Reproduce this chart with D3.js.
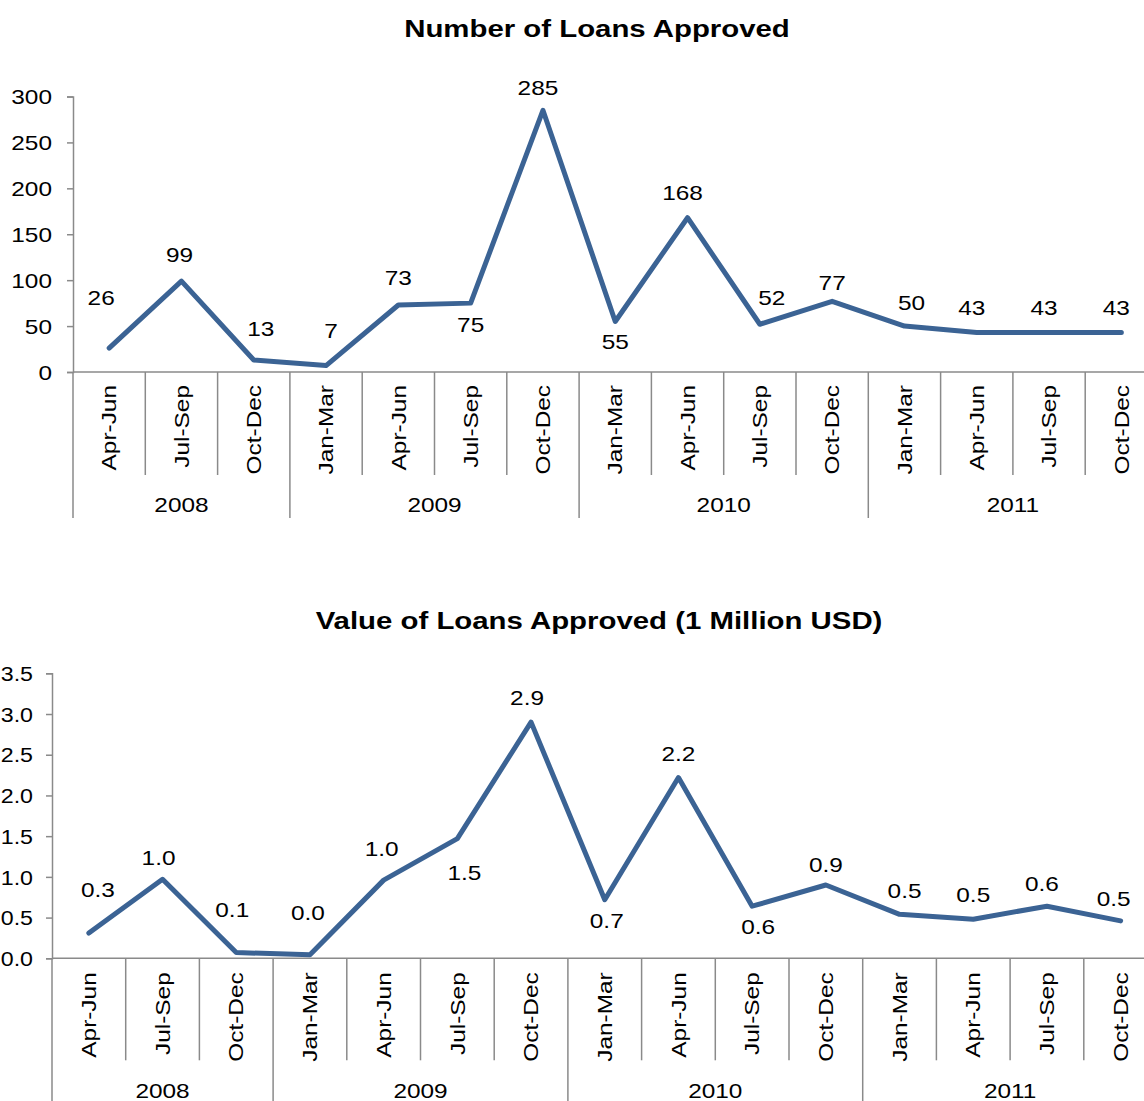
<!DOCTYPE html>
<html>
<head>
<meta charset="utf-8">
<script src="https://cdn.jsdelivr.net/npm/d3@7"></script>
<style>
  html, body { margin: 0; padding: 0; background: #fff; }
  svg { display: block; }
  text { font-family: "Liberation Sans", Arial, sans-serif; fill: #000; }
</style>
</head>
<body>
<svg id="chart" width="1144" height="1101"></svg>
<script>
// ---------- DATA ----------
const quarters = ["Apr-Jun","Jul-Sep","Oct-Dec","Jan-Mar","Apr-Jun","Jul-Sep","Oct-Dec","Jan-Mar","Apr-Jun","Jul-Sep","Oct-Dec","Jan-Mar","Apr-Jun","Jul-Sep","Oct-Dec"];
const years = ["2008","2008","2008","2009","2009","2009","2009","2010","2010","2010","2010","2011","2011","2011","2011"];
const loansCount = [26, 99, 13, 7, 73, 75, 285, 55, 168, 52, 77, 50, 43, 43, 43];
const loansValue = [0.31, 0.97, 0.07, 0.045, 0.96, 1.47, 2.90, 0.72, 2.22, 0.64, 0.90, 0.54, 0.48, 0.64, 0.46];
const countTicks = [0, 50, 100, 150, 200, 250, 300];
const valueTicks = [0, 0.5, 1.0, 1.5, 2.0, 2.5, 3.0, 3.5];
const title1 = "Number of Loans Approved";
const title2 = "Value of Loans Approved (1 Million USD)";

// label placement offsets (style only)
const countLabelOffsets = [[-8,-50],[-2,-26],[7,-31],[5,-35],[0,-27],[0,22],[-5,-22],[0,20],[-5,-25],[12,-26],[0,-18],[7,-23],[-5,-25],[-5,-25],[-5,-25]];
const valueLabelOffsets = [[9,-43],[-4,-22],[-4,-43],[-2,-42],[-2,-31],[7,34],[-4,-24],[2,21],[0,-24],[6,21],[0,-20],[5,-24],[0,-24],[-5,-22],[-7,-22]];

// ---------- STYLE ----------
const LINE = "#3b6394";
const AXIS = "#8a8a8a";
const SX = 1.22; // horizontal text stretch
const FS = 20;

const svg = d3.select("#chart");
const keys = quarters.map((q, i) => years[i] + " " + q);

function stretchedText(g, x, y, str, opts = {}) {
  const rot = opts.rotate ? ` rotate(${opts.rotate})` : "";
  return g.append("text")
    .attr("transform", `translate(${x},${y})${rot} scale(${opts.sx || SX},1)`)
    .attr("text-anchor", opts.anchor || "middle")
    .attr("dy", opts.dy || "0.36em")
    .style("font-size", (opts.size || FS) + "px")
    .style("font-weight", opts.weight || "normal")
    .text(str);
}

function drawChart(cfg) {
  const g = svg.append("g");
  const x = d3.scaleBand().domain(keys).range([cfg.x0, cfg.x1]).paddingInner(0).paddingOuter(0);
  const y = d3.scaleLinear().domain(cfg.domain).range([cfg.y0, cfg.yTop]);

  // title
  stretchedText(g, cfg.titleX, cfg.titleY, cfg.title, {size: 23.5, weight: "bold", dy: "0", sx: 1.25});

  // y axis
  const yAxis = d3.axisLeft(y).tickValues(cfg.ticks).tickSize(6).tickFormat(cfg.tickFmt);
  const ya = g.append("g").attr("transform", `translate(${cfg.x0},0)`).call(yAxis);
  ya.select(".domain").attr("stroke", AXIS).attr("stroke-width", 1.5);
  ya.selectAll(".tick line").attr("stroke", AXIS).attr("stroke-width", 1.5);
  ya.selectAll(".tick text")
    .attr("x", null).attr("dy", "0.36em")
    .attr("transform", `translate(${-cfg.labelGap},0) scale(${cfg.tickSx || SX},1)`)
    .attr("fill", "#000")
    .style("font-size", FS + "px")
    .style("font-family", "'Liberation Sans', Arial, sans-serif");

  // x axis line
  g.append("line")
    .attr("x1", cfg.x0).attr("x2", cfg.x1)
    .attr("y1", cfg.y0).attr("y2", cfg.y0)
    .attr("stroke", AXIS).attr("stroke-width", 1.5);

  // separators
  const bw = x.bandwidth();
  for (let i = 0; i <= keys.length; i++) {
    const xb = cfg.x0 + i * bw;
    const isYear = i === 0 || i === keys.length || years[i] !== years[i - 1];
    g.append("line")
      .attr("x1", xb).attr("x2", xb)
      .attr("y1", cfg.y0).attr("y2", cfg.y0 + (isYear ? cfg.yearTick : cfg.innerTick))
      .attr("stroke", AXIS).attr("stroke-width", 1.5);
  }

  // quarter labels
  keys.forEach((k, i) => {
    stretchedText(g, x(k) + bw / 2, cfg.y0 + cfg.qOffset, quarters[i], {rotate: -90, anchor: "end", dy: "0.36em"});
  });

  // year labels
  const yearGroups = d3.groups(keys.map((k, i) => ({k, yr: years[i]})), d => d.yr);
  yearGroups.forEach(([yr, items]) => {
    const xs = x(items[0].k);
    const xe = x(items[items.length - 1].k) + bw;
    stretchedText(g, (xs + xe) / 2, cfg.y0 + cfg.yearOffset, yr, {});
  });

  // line
  const line = d3.line().x((d, i) => x(keys[i]) + bw / 2).y(d => y(d));
  g.append("path")
    .datum(cfg.values)
    .attr("d", line)
    .attr("fill", "none")
    .attr("stroke", LINE)
    .attr("stroke-width", 5)
    .attr("stroke-linejoin", "round")
    .attr("stroke-linecap", "round");

  // data labels
  cfg.values.forEach((v, i) => {
    const px = x(keys[i]) + bw / 2, py = y(v);
    const [dx, dy] = cfg.offsets[i];
    stretchedText(g, px + dx, py + dy, cfg.labelFmt(v), {});
  });
}

drawChart({
  title: title1, titleX: 597, titleY: 36.5,
  x0: 73, x1: 73 + 15 * 72.3,
  y0: 372, yTop: 96.5, domain: [0, 300],
  ticks: countTicks, tickFmt: d3.format("d"), labelGap: 21,
  innerTick: 103, yearTick: 146, qOffset: 13, yearOffset: 133,
  values: loansCount, labelFmt: d3.format("d"), offsets: countLabelOffsets
});

drawChart({
  title: title2, titleX: 599, titleY: 629,
  x0: 52, x1: 52 + 15 * 73.7,
  y0: 958.3, yTop: 673.3, domain: [0, 3.5],
  ticks: valueTicks, tickFmt: d3.format(".1f"), labelGap: 19, tickSx: 1.16,
  innerTick: 102, yearTick: 150, qOffset: 14, yearOffset: 132,
  values: loansValue, labelFmt: d3.format(".1f"), offsets: valueLabelOffsets
});
</script>
</body>
</html>
